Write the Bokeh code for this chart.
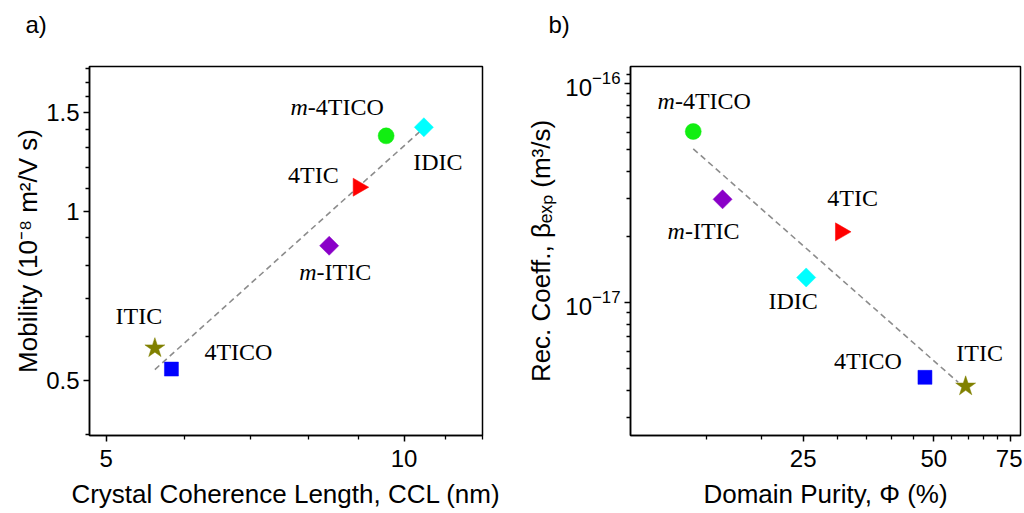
import math
from bokeh.plotting import figure
from bokeh.layouts import row
from bokeh.models import FixedTicker, CustomJSTickFormatter, LogTickFormatter, ColumnDataSource
from bokeh.core.properties import value
from bokeh.embed import file_html
from bokeh.resources import INLINE

# ---------------- data ----------------
materials = ["ITIC", "4TICO", "m-ITIC", "4TIC", "m-4TICO", "IDIC"]

# panel a
ccl_nm = [5.60, 5.82, 8.40, 8.99, 9.59, 10.47]
mobility = [0.571, 0.524, 0.869, 1.105, 1.364, 1.413]
fit_a_x = [5.60, 10.42]
fit_a_y = [0.523, 1.398]

# panel b
purity_pct = [59.2, 47.7, 16.3, 30.5, 13.95, 25.4]
rec_coeff = [4.16e-18, 4.57e-18, 2.97e-17, 2.11e-17, 6.06e-17, 1.306e-17]
fit_b_x = [13.95, 56.9]
fit_b_y = [5.05e-17, 4.34e-18]

a_xticks = [5, 10]
a_xminor = [6, 7, 8, 9, 11, 12]
a_yticks = [0.5, 1, 1.5]
a_yminor = [0.4, 0.6, 0.7, 0.8, 0.9, 1.1, 1.2, 1.3, 1.4, 1.6, 1.7, 1.8]
b_xticks = [25, 50, 75]
b_xminor = [15, 20, 30, 35, 40, 45, 55, 60, 65, 70]
b_yticks = [1e-17, 1e-16]
b_yminor = [3e-18, 4e-18, 5e-18, 6e-18, 7e-18, 8e-18, 9e-18,
            2e-17, 3e-17, 4e-17, 5e-17, 6e-17, 7e-17, 8e-17, 9e-17, 1.1e-16]

# ---------------- styles ----------------
marker_style = {
    "ITIC":    dict(marker="star", color="#808000", size=21, angle=0.0),
    "4TICO":   dict(marker="square", color="#0000FF", size=14, angle=0.0),
    "m-ITIC":  dict(marker="square", color="#8A00C8", size=13.5, angle=math.pi / 4),
    "4TIC":    dict(marker="triangle", color="#FF0000", size=18, angle=-math.pi / 2),
    "m-4TICO": dict(marker="circle", color="#11EE11", size=16, angle=0.0),
    "IDIC":    dict(marker="square", color="#00FFFF", size=13.5, angle=math.pi / 4),
}
# label offsets (screen px, +y downwards)
offsets_a = {"ITIC": (-16, -32), "4TICO": (67, -17), "m-ITIC": (6, 26),
             "4TIC": (-45, -12), "m-4TICO": (-49, -29), "IDIC": (14, 35)}
offsets_b = {"ITIC": (14, -33), "4TICO": (-57, -16), "m-ITIC": (-19, 32),
             "4TIC": (12, -34), "m-4TICO": (11, -30), "IDIC": (-13, 24)}

LABEL_FONT = "Liberation Serif"
LABEL_SIZE = 24
SANS = "Liberation Sans"
TW = {"m": 0.722, "-": 0.333, "4": 0.5, "T": 0.611, "I": 0.333, "C": 0.667, "O": 0.722, "D": 0.722}


def twidth(s):
    return sum(TW.get(c, 0.5) for c in s) * LABEL_SIZE


def style_axes(p, panel_text, title_offset):
    for ax in (p.xaxis, p.yaxis):
        ax.axis_line_width = 1.5
        ax.axis_line_color = "black"
        ax.major_tick_line_width = 1.5
        ax.minor_tick_line_width = 1.3
        ax.major_tick_out = 6
        ax.major_tick_in = 0
        ax.minor_tick_out = 4
        ax.minor_tick_in = 0
        ax.major_label_text_font = SANS
        ax.major_label_text_font_size = "24px"
        ax.major_label_text_color = "black"
        ax.axis_label_text_font = SANS
        ax.axis_label_text_font_size = "26px"
        ax.axis_label_text_font_style = "normal"
        ax.axis_label_text_color = "black"
    p.xgrid.visible = False
    p.ygrid.visible = False
    p.outline_line_color = "black"
    p.outline_line_width = 1.5
    p.outline_line_alpha = 1.0
    p.background_fill_color = "white"
    p.border_fill_color = "white"
    # second (blank) line lifts the panel letter towards the top edge
    p.title.text = panel_text + "\n "
    p.title.text_font = SANS
    p.title.text_font_size = "24px"
    p.title.text_font_style = "normal"
    p.title.text_color = "black"
    p.title.align = "left"
    p.title.vertical_align = "top"
    p.title.offset = title_offset
    p.title.standoff = 0


def add_points(p, xs, ys, offsets):
    for name, x, y in zip(materials, xs, ys):
        st = marker_style[name]
        p.scatter([x], [y], marker=st["marker"], size=st["size"], angle=st["angle"],
                  fill_color=st["color"], line_color=st["color"], line_width=0.5)
    cx, cy, ct, cxo, cyo = [], [], [], [], []
    ix, iy, ixo, iyo = [], [], [], []
    rx, ry, rt, rxo, ryo = [], [], [], [], []
    for name, x, y in zip(materials, xs, ys):
        dx, dy = offsets[name]
        if name.startswith("m-"):
            rest = name[1:]
            total = twidth("m") + twidth(rest)
            split = dx - total / 2 + twidth("m")
            ix.append(x); iy.append(y); ixo.append(split); iyo.append(dy)
            rx.append(x); ry.append(y); rt.append(rest); rxo.append(split); ryo.append(dy)
        else:
            cx.append(x); cy.append(y); ct.append(name); cxo.append(dx); cyo.append(dy)
    common = dict(text_font=value(LABEL_FONT), text_font_size=f"{LABEL_SIZE}px",
                  text_color="black", text_baseline="middle")
    p.text(x="x", y="y", text="t", x_offset="xo", y_offset="yo", text_align="center",
           source=ColumnDataSource(dict(x=cx, y=cy, t=ct, xo=cxo, yo=cyo)), **common)
    p.text(x="x", y="y", text="t", x_offset="xo", y_offset="yo", text_align="right",
           text_font_style="italic",
           source=ColumnDataSource(dict(x=ix, y=iy, t=["m"] * len(ix), xo=ixo, yo=iyo)), **common)
    p.text(x="x", y="y", text="t", x_offset="xo", y_offset="yo", text_align="left",
           source=ColumnDataSource(dict(x=rx, y=ry, t=rt, xo=rxo, yo=ryo)), **common)


# ---------------- panel a ----------------
pa = figure(width=512, height=511, x_axis_type="log", y_axis_type="log",
            x_range=(4.81, 12.0), y_range=(0.399, 1.813),
            min_border_left=89, min_border_right=30, min_border_top=66, min_border_bottom=73,
            output_backend="svg", toolbar_location=None)
style_axes(pa, "a)", -64)
pa.xaxis.ticker = FixedTicker(ticks=a_xticks, minor_ticks=a_xminor)
pa.yaxis.ticker = FixedTicker(ticks=a_yticks, minor_ticks=a_yminor)
pa.xaxis.formatter = CustomJSTickFormatter(code="return String(tick);")
pa.yaxis.formatter = CustomJSTickFormatter(code="return String(tick);")
pa.xaxis.axis_label = "Crystal Coherence Length, CCL (nm)"
pa.yaxis.axis_label = "Mobility (10\u207b\u2078 m\u00b2/V s)"
pa.xaxis.major_label_standoff = 8
pa.xaxis.axis_label_standoff = 9
pa.yaxis.major_label_standoff = 4
pa.yaxis.axis_label_standoff = 0
pa.line(fit_a_x, fit_a_y, line_color="#8c8c8c", line_width=1.6, line_dash="6 4")
add_points(pa, ccl_nm, mobility, offsets_a)

# ---------------- panel b ----------------
pb = figure(width=510, height=511, x_axis_type="log", y_axis_type="log",
            x_range=(10, 79.2), y_range=(2.48e-18, 1.2e-16),
            min_border_left=118, min_border_right=2, min_border_top=65, min_border_bottom=74,
            output_backend="svg", toolbar_location=None)
style_axes(pb, "b)", -82)
pb.xaxis.ticker = FixedTicker(ticks=b_xticks, minor_ticks=b_xminor)
pb.yaxis.ticker = FixedTicker(ticks=b_yticks, minor_ticks=b_yminor)
pb.xaxis.formatter = CustomJSTickFormatter(code="return String(tick);")
pb.yaxis.formatter = LogTickFormatter()
pb.xaxis.axis_label = "Domain Purity, \u03a6 (%)"
pb.yaxis.axis_label = "Rec. Coeff., \u03b2\u2091\u2093\u209a (m\u00b3/s)"
pb.xaxis.major_label_standoff = 8
pb.xaxis.axis_label_standoff = 9
pb.yaxis.major_label_standoff = 4
pb.yaxis.axis_label_standoff = 6
pb.line(fit_b_x, fit_b_y, line_color="#8c8c8c", line_width=1.6, line_dash="6 4")
add_points(pb, purity_pct, rec_coeff, offsets_b)

layout = row(pa, pb)
open("out.html", "w").write(file_html(layout, INLINE))
